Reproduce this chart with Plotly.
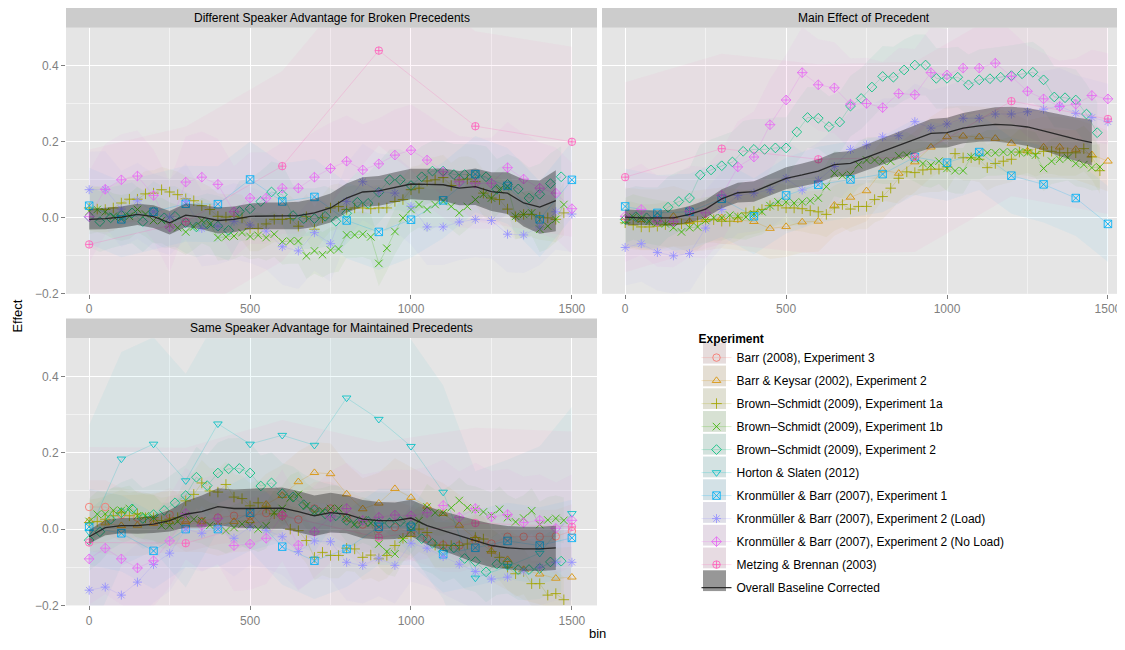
import plotly.graph_objects as go

# ---------------- bins ----------------
bins25 = list(range(0, 1500, 25))            # Brown-Schmidt 1a / 1b
bins33 = [round(k * 100 / 3, 1) for k in range(45)]  # Brown-Schmidt 2
bins50 = list(range(0, 1501, 50))
bins100 = list(range(0, 1501, 100))
metz_bins = [0, 300, 600, 900, 1200, 1500]
overall_bins = list(range(0, 1451, 50))

# ---------------- experiments ----------------
exp_names = ["Barr (2008), Experiment 3", "Barr & Keysar (2002), Experiment 2",
             "Brown\u2013Schmidt (2009), Experiment 1a", "Brown\u2013Schmidt (2009), Experiment 1b",
             "Brown\u2013Schmidt (2009), Experiment 2", "Horton & Slaten (2012)",
             "Kronm\u00fcller & Barr (2007), Experiment 1", "Kronm\u00fcller & Barr (2007), Experiment 2 (Load)",
             "Kronm\u00fcller & Barr (2007), Experiment 2 (No Load)", "Metzing & Brennan (2003)"]
exp_colors = ["#F8766D", "#D89000", "#A3A500", "#39B600", "#00BF7D",
              "#00BFC4", "#00B0F6", "#9590FF", "#E76BF3", "#FF62BC"]
exp_symbols = ["circle-open", "triangle-up-open", "cross-thin-open", "x-thin-open", "diamond-open",
               "triangle-down-open", "square-x-open", "asterisk-open", "diamond-cross-open", "circle-cross-open"]
exp_ci = [0.07, 0.08, 0.06, 0.06, 0.08, 0.28, 0.1, 0.1, 0.12, 0.25]

panel_titles = ["Different Speaker Advantage for Broken Precedents",
                "Main Effect of Precedent",
                "Same Speaker Advantage for Maintained Precedents"]

# ---------------- panel 1: Different speaker advantage (broken) ----------------
p1_bs1a = [0.026, 0.023, 0.022, 0.026, 0.039, 0.049, 0.049, 0.063, 0.065, 0.074, 0.068, 0.061, 0.05, 0.045,
           0.032, 0.022, 0.004, 0.002, 0.004, 0.0, -0.028, -0.028, -0.016, -0.004, -0.004, -0.002, -0.022,
           0.003, -0.03, 0.0, 0.026, 0.03, 0.022, 0.026, 0.026, 0.024, 0.026, 0.026, 0.043, 0.048, 0.074,
           0.078, 0.097, 0.1, 0.106, 0.085, 0.1, 0.102, 0.095, 0.065, 0.052, 0.048, 0.023, 0.003, 0.009,
           0.009, 0.002, 0.0, -0.004, 0.013]
p1_bs1b = [0.017, 0.022, 0.016, 0.004, 0.0, 0.004, 0.022, 0.01, -0.007, -0.007, -0.019, -0.026, -0.037, -0.024,
           -0.007, -0.016, -0.052, -0.05, -0.048, -0.039, -0.049, -0.046, -0.052, -0.043, -0.063, -0.061,
           -0.061, -0.1, -0.087, -0.097, -0.085, -0.082, -0.045, -0.045, -0.043, -0.05, -0.12, -0.08, -0.036,
           0.0, 0.022, 0.035, 0.022, 0.035, 0.043, 0.03, 0.013, 0.03, 0.048, 0.062, 0.052, 0.074, 0.082,
           0.004, 0.009, 0.013, -0.03, -0.022, -0.004, 0.035]
p1_bs2 = [0.003, -0.01, 0.0, 0.007, 0.013, -0.01, 0.016, 0.0, 0.004, -0.013, -0.024, -0.016, -0.022, -0.033,
          0.017, 0.024, 0.043, 0.068, 0.061, 0.006, -0.002, -0.002, 0.004, -0.009, 0.012, 0.041, 0.038, 0.067,
          0.1, 0.1, 0.085, 0.108, 0.123, 0.123, 0.114, 0.114, 0.113, 0.108, 0.075, 0.088, 0.076, 0.052, 0.062,
          0.09, 0.108]
p1_k1 = [0.032, -0.004, 0.016, 0.037, 0.036, 0.101, 0.043, 0.055, -0.007, -0.037, -0.005, 0.046, 0.115,
         0.084, -0.004, 0.1]
p1_k2load = [0.074, 0.075, 0.023, 0.045, 0.016, 0.002, 0.043, -0.028, -0.022, -0.009, -0.019, -0.035, -0.076,
             -0.087, -0.039, -0.068, 0.043, 0.095, 0.069, 0.065, 0.03, -0.024, -0.024, -0.011, -0.004, -0.007,
             -0.043, -0.045, -0.024, 0.016, 0.01]
p1_k2noload = [0.003, 0.075, 0.1, 0.11, 0.059, -0.024, 0.094, 0.107, 0.088, 0.016, 0.052, 0.052, 0.078, 0.078,
               0.107, 0.13, 0.149, 0.126, 0.142, 0.165, 0.178, 0.152, 0.121, 0.095, 0.091, 0.091, 0.132, 0.102,
               0.078, 0.065, 0.024]
p1_metzing = [-0.07, -0.01, 0.136, 0.44, 0.241, 0.2]
p1_overall = [-0.004, -0.002, 0.002, 0.009, 0.003, -0.013, 0.007, 0.002, -0.007, -0.004, 0.004, 0.005, 0.005,
              0.006, 0.013, 0.026, 0.052, 0.068, 0.071, 0.08, 0.089, 0.088, 0.087, 0.078, 0.082, 0.069, 0.065,
              0.039, 0.028, 0.045]
p1_overall_ci = [0.027, 0.028, 0.028, 0.028, 0.03, 0.031, 0.031, 0.032, 0.034, 0.034, 0.034, 0.035, 0.035,
                 0.036, 0.037, 0.038, 0.038, 0.039, 0.039, 0.04, 0.04, 0.041, 0.043, 0.045, 0.048, 0.051, 0.055,
                 0.062, 0.07, 0.08]

# ---------------- panel 2: Main effect of precedent ----------------
p2_bk = [0.0, -0.005, -0.005, 0.004, -0.01, -0.005, 0.0, -0.005, -0.01, -0.028, -0.023, -0.011, -0.009, 0.033,
         0.054, 0.071, 0.126, 0.117, 0.147, 0.186, 0.213, 0.215, 0.213, 0.209, 0.196, 0.176, 0.186, 0.186, 0.18,
         0.166, 0.149]
p2_bs1a = [-0.013, -0.019, -0.024, -0.024, -0.022, -0.018, -0.015, -0.016, -0.013, -0.01, -0.005, -0.005,
           -0.009, -0.009, 0.0, 0.013, 0.017, 0.022, 0.032, 0.032, 0.026, 0.026, 0.024, 0.019, 0.016, 0.009,
           0.026, 0.035, 0.023, 0.03, 0.03, 0.048, 0.056, 0.078, 0.104, 0.121, 0.119, 0.126, 0.128, 0.128, 0.134,
           0.169, 0.158, 0.158, 0.154, 0.132, 0.143, 0.149, 0.154, 0.173, 0.178, 0.169, 0.175, 0.175, 0.171,
           0.171, 0.171, 0.182, 0.16, 0.124]
p2_bs1b = [-0.007, 0.002, -0.004, -0.009, -0.013, -0.016, -0.026, -0.037, -0.026, -0.024, -0.007, 0.0, 0.0,
           0.007, 0.004, 0.002, 0.01, 0.016, 0.032, 0.042, 0.042, 0.039, 0.042, 0.045, 0.052, 0.082, 0.117, 0.111,
           0.114, 0.14, 0.152, 0.152, 0.149, 0.149, 0.163, 0.165, 0.155, 0.143, 0.139, 0.149, 0.13, 0.124, 0.124,
           0.16, 0.16, 0.171, 0.171, 0.173, 0.173, 0.173, 0.171, 0.165, 0.13, 0.149, 0.154, 0.158, 0.143, 0.14,
           0.132, 0.134]
p2_bs2 = [-0.004, 0.003, 0.0, 0.0, 0.028, 0.043, 0.052, 0.113, 0.126, 0.137, 0.147, 0.175, 0.18, 0.18, 0.184,
          0.184, 0.226, 0.264, 0.262, 0.24, 0.252, 0.294, 0.314, 0.344, 0.372, 0.37, 0.389, 0.402, 0.402, 0.367,
          0.367, 0.37, 0.35, 0.363, 0.366, 0.37, 0.374, 0.379, 0.383, 0.363, 0.318, 0.316, 0.31, 0.273, 0.224]
p2_k1 = [0.03, 0.013, 0.016, 0.05, 0.004, 0.059, 0.087, 0.101, 0.115, 0.16, 0.145, 0.173, 0.111, 0.088, 0.052,
         -0.016]
p2_k2load = [-0.078, -0.068, -0.091, -0.1, -0.094, -0.027, 0.022, 0.059, 0.065, 0.074, 0.104, 0.073, 0.098, 0.135,
             0.18, 0.192, 0.213, 0.216, 0.253, 0.236, 0.247, 0.262, 0.262, 0.273, 0.273, 0.279, 0.286, 0.294, 0.275,
             0.264, 0.253]
p2_k2noload = [0.004, 0.022, -0.009, -0.01, 0.017, 0.013, 0.059, 0.134, 0.16, 0.245, 0.31, 0.382, 0.35, 0.342,
               0.299, 0.301, 0.29, 0.327, 0.324, 0.382, 0.376, 0.394, 0.394, 0.407, 0.372, 0.333, 0.313, 0.293,
               0.299, 0.322, 0.313]
p2_metzing = [0.107, 0.182, 0.154, 0.16, 0.307, 0.26]
p2_overall = [0.002, 0.0, 0.0, 0.0, 0.009, 0.023, 0.05, 0.066, 0.069, 0.087, 0.104, 0.113, 0.123, 0.14, 0.143,
              0.159, 0.175, 0.19, 0.207, 0.222, 0.224, 0.236, 0.242, 0.246, 0.244, 0.239, 0.229, 0.217, 0.207,
              0.198]
p2_overall_ci = [0.02, 0.02, 0.02, 0.021, 0.022, 0.023, 0.025, 0.026, 0.027, 0.028, 0.029, 0.03, 0.031, 0.032,
                 0.033, 0.034, 0.035, 0.036, 0.037, 0.038, 0.039, 0.04, 0.042, 0.045, 0.048, 0.05, 0.052, 0.055,
                 0.057, 0.06]

# ---------------- panel 3: Same speaker advantage (maintained) ----------------
p3_barr = [0.058, 0.058, 0.038, 0.03, 0.02, 0.038, 0.01, 0.02, 0.03, 0.035, 0.035, 0.042, 0.035, 0.025, 0.054,
           0.054, 0.03, 0.012, 0.0, 0.005, -0.011, -0.025, -0.042, -0.043, -0.03, -0.038, -0.02, -0.02, -0.02,
           -0.019, -0.005]
p3_bk = [0.022, 0.016, 0.009, 0.01, 0.015, 0.02, 0.02, 0.02, 0.01, 0.02, 0.022, 0.065, 0.088, 0.124, 0.148,
         0.145, 0.092, 0.053, 0.068, 0.106, 0.083, 0.06, 0.041, 0.01, -0.025, -0.058, -0.08, -0.106, -0.118,
         -0.129, -0.126]
p3_bs1a = [0.017, 0.02, 0.026, 0.035, 0.043, 0.035, 0.04, 0.03, 0.03, 0.022, 0.026, 0.03, 0.074, 0.091, 0.121,
           0.1, 0.097, 0.117, 0.084, 0.08, 0.061, 0.069, 0.056, 0.04, 0.035, 0.0, -0.004, -0.03, -0.074, -0.061,
           -0.069, -0.069, -0.05, -0.052, -0.074, -0.068, -0.078, -0.069, -0.043, -0.024, -0.019, 0.0, -0.009,
           -0.042, -0.042, -0.043, -0.043, -0.039, -0.022, -0.026, -0.059, -0.074, -0.1, -0.117, -0.111, -0.143,
           -0.143, -0.173, -0.169, -0.185]
p3_bs1b = [0.02, 0.039, 0.04, 0.049, 0.049, 0.054, 0.035, 0.035, 0.03, 0.009, 0.009, 0.02, 0.035, 0.026, 0.022,
           0.01, 0.006, -0.004, 0.004, 0.013, 0.01, 0.0, 0.009, 0.043, 0.054, 0.082, 0.091, 0.061, 0.045, 0.048,
           0.054, 0.054, 0.026, 0.013, 0.024, 0.016, -0.039, -0.059, -0.065, -0.026, -0.004, 0.022, 0.058, 0.043,
           0.043, 0.056, 0.075, 0.056, 0.052, 0.045, 0.036, 0.052, 0.03, 0.019, 0.029, 0.048, 0.012, 0.024,
           0.028, 0.023]
p3_bs2 = [-0.029, -0.007, 0.026, 0.043, 0.053, 0.028, 0.038, 0.049, 0.069, 0.088, 0.136, 0.114, 0.147, 0.158,
          0.159, 0.147, 0.113, 0.121, 0.093, 0.084, 0.064, 0.05, 0.04, 0.035, 0.023, 0.015, 0.02, 0.016, 0.016,
          0.02, 0.01, -0.025, -0.037, -0.059, -0.049, -0.077, -0.085, -0.112, -0.092, -0.089, -0.106, -0.106,
          -0.103, -0.086, -0.084]
p3_horton = [-0.007, 0.184, 0.223, 0.127, 0.276, 0.223, 0.246, 0.22, 0.344, 0.288, 0.217, 0.097, -0.128, -0.098,
             -0.063, 0.041]
p3_k1 = [0.006, -0.011, -0.057, 0.0, 0.0, 0.043, -0.046, -0.083, -0.052, 0.006, 0.006, -0.066, -0.049, -0.031,
         -0.043, -0.023]
p3_k2load = [-0.16, -0.152, -0.173, -0.139, -0.093, -0.063, 0.0, -0.011, 0.005, -0.024, 0.006, -0.003, -0.02,
             -0.059, -0.031, -0.033, -0.087, -0.095, -0.076, -0.095, -0.037, -0.05, -0.072, -0.092, -0.111, -0.131,
             -0.126, -0.11, -0.1, -0.087, -0.087]
p3_k2noload = [-0.078, -0.05, -0.078, -0.102, -0.083, -0.031, 0.041, 0.01, 0.028, -0.043, -0.039, -0.024, 0.036,
               -0.042, -0.007, 0.032, 0.054, 0.023, 0.031, 0.037, 0.035, 0.043, 0.062, 0.031, 0.054, 0.032, 0.038,
               0.017, 0.023, 0.002, 0.023]
p3_metzing = [-0.035, -0.037, 0.036, -0.022, 0.016, 0.006]
p3_overall = [-0.02, 0.004, 0.009, 0.009, 0.013, 0.022, 0.039, 0.046, 0.059, 0.054, 0.054, 0.054, 0.055, 0.046,
              0.035, 0.043, 0.039, 0.026, 0.022, 0.022, 0.029, 0.009, -0.004, -0.019, -0.032, -0.043, -0.049,
              -0.052, -0.052, -0.049]
p3_overall_ci = [0.018, 0.02, 0.02, 0.021, 0.023, 0.028, 0.035, 0.042, 0.048, 0.05, 0.052, 0.053, 0.054, 0.054,
                 0.053, 0.052, 0.05, 0.05, 0.049, 0.048, 0.048, 0.05, 0.052, 0.054, 0.056, 0.057, 0.057, 0.058,
                 0.058, 0.058]

# panel content: (experiment index, bins, values)
panels = [
    [(2, bins25, p1_bs1a), (3, bins25, p1_bs1b), (4, bins33, p1_bs2), (6, bins100, p1_k1),
     (7, bins50, p1_k2load), (8, bins50, p1_k2noload), (9, metz_bins, p1_metzing)],
    [(1, bins50, p2_bk), (2, bins25, p2_bs1a), (3, bins25, p2_bs1b), (4, bins33, p2_bs2), (6, bins100, p2_k1),
     (7, bins50, p2_k2load), (8, bins50, p2_k2noload), (9, metz_bins, p2_metzing)],
    [(0, bins50, p3_barr), (1, bins50, p3_bk), (2, bins25, p3_bs1a), (3, bins25, p3_bs1b), (4, bins33, p3_bs2),
     (5, bins100, p3_horton), (6, bins100, p3_k1), (7, bins50, p3_k2load), (8, bins50, p3_k2noload),
     (9, metz_bins, p3_metzing)],
]
overalls = [(p1_overall, p1_overall_ci), (p2_overall, p2_overall_ci), (p3_overall, p3_overall_ci)]


def rgba(h, a):
    h = h.lstrip("#")
    return "rgba(%d,%d,%d,%.3f)" % (int(h[0:2], 16), int(h[2:4], 16), int(h[4:6], 16), a)


fig = go.Figure()
axes = [("x", "y"), ("x2", "y2"), ("x3", "y3")]
legend_done = set()

for pi, content in enumerate(panels):
    xa, ya = axes[pi]
    for ei, bx, vals in content:
        hw = exp_ci[ei]
        hi = [v + hw for v in vals]
        lo = [v - hw for v in vals]
        fig.add_trace(go.Scatter(x=list(bx) + list(bx)[::-1], y=hi + lo[::-1], fill="toself",
                                 fillcolor=rgba(exp_colors[ei], 0.055), line=dict(width=0),
                                 mode="lines", hoverinfo="skip", showlegend=False, xaxis=xa, yaxis=ya))
    for ei, bx, vals in content:
        c = exp_colors[ei]
        fig.add_trace(go.Scatter(
            x=list(bx), y=vals, mode="lines+markers", name=exp_names[ei],
            legendgroup=exp_names[ei], legendrank=ei + 1, showlegend=ei not in legend_done,
            line=dict(color=rgba(c, 0.22), width=1),
            marker=dict(symbol=exp_symbols[ei], size=7.5, color=rgba(c, 0.85),
                        line=dict(width=1, color=rgba(c, 0.85))),
            xaxis=xa, yaxis=ya))
        legend_done.add(ei)
    mean, ci = overalls[pi]
    hi = [m + c for m, c in zip(mean, ci)]
    lo = [m - c for m, c in zip(mean, ci)]
    fig.add_trace(go.Scatter(x=overall_bins + overall_bins[::-1], y=hi + lo[::-1], fill="toself",
                             fillcolor="rgba(20,20,20,0.37)", line=dict(width=0), mode="lines",
                             hoverinfo="skip", showlegend=False, xaxis=xa, yaxis=ya))
    fig.add_trace(go.Scatter(x=overall_bins, y=mean, mode="lines", name="Overall Baseline Corrected",
                             legendgroup="overall", legendrank=20, showlegend=(pi == 0),
                             line=dict(color="rgba(30,30,30,0.9)", width=1.3), xaxis=xa, yaxis=ya))

# The page has an 8px body margin: figure pixel = reference pixel - 8
OFF = 8
W, H = 1125 - OFF, 650 - OFF


def px(v):
    return (v - OFF) / W


def py(v):
    return 1 - (v - OFF) / H


col_dom = [[px(66), px(597)], [px(602), 1.0]]
row_dom = [[py(297), py(28)], [py(612), py(342)]]
tick_font = dict(family="Liberation Sans, Arial, sans-serif", size=12, color="#7F7F7F")

common_x = dict(tickvals=[0, 500, 1000, 1500], showgrid=True, gridcolor="white", gridwidth=1.1,
                zeroline=False, ticks="outside", ticklen=4, tickcolor="#7F7F7F", tickfont=tick_font,
                minor=dict(tickvals=[250, 750, 1250], showgrid=True, gridcolor="#F2F2F2", gridwidth=0.6,
                           ticks=""),
                showline=False)
common_y = dict(range=[-0.2, 0.5], tickvals=[-0.2, 0.0, 0.2, 0.4], tickformat=".1f", showgrid=True,
                gridcolor="white", gridwidth=1.1, zeroline=False, ticks="outside", ticklen=4,
                tickcolor="#7F7F7F", tickfont=tick_font,
                minor=dict(tickvals=[-0.1, 0.1, 0.3], showgrid=True, gridcolor="#F2F2F2", gridwidth=0.6,
                           ticks=""),
                showline=False)
y2 = dict(common_y)
y2["ticks"] = ""

fig.update_layout(
    width=W, height=H, margin=dict(l=0, r=0, t=0, b=0), paper_bgcolor="white", plot_bgcolor="#E5E5E5",
    font=dict(family="Liberation Sans, Arial, sans-serif", size=12, color="black"),
    xaxis=dict(domain=col_dom[0], anchor="y", range=[-72, 1578], **common_x),
    yaxis=dict(domain=row_dom[0], anchor="x", **common_y),
    xaxis2=dict(domain=col_dom[1], anchor="y2", range=[-72, 1553], **common_x),
    yaxis2=dict(domain=row_dom[0], anchor="x2", showticklabels=False, **y2),
    xaxis3=dict(domain=col_dom[0], anchor="y3", range=[-72, 1578], **common_x),
    yaxis3=dict(domain=row_dom[1], anchor="x3", **common_y),
    legend=dict(x=px(696.5), y=py(331), xanchor="left", yanchor="top", bgcolor="rgba(255,255,255,0)",
                title=dict(text="<b>Experiment</b>", font=dict(size=12)), font=dict(size=12),
                tracegroupgap=4, itemwidth=30),
    showlegend=True,
)

# legend key background boxes (as in ggplot keys)
for i in range(11):
    top = 346.5 + 23 * i
    bot = top + 21
    fig.add_shape(type="rect", xref="paper", yref="paper", x0=px(703), x1=px(726), y0=py(bot), y1=py(top),
                  fillcolor="#E5E5E5", line=dict(width=0), layer="below")
    tint = rgba(exp_colors[i], 0.08) if i < 10 else "rgba(20,20,20,0.37)"
    fig.add_shape(type="rect", xref="paper", yref="paper", x0=px(703), x1=px(726), y0=py(bot), y1=py(top),
                  fillcolor=tint, line=dict(width=0), layer="below")

# facet strips
strip_pos = [(col_dom[0], (8, 28)), (col_dom[1], (8, 28)), (col_dom[0], (322, 342))]
for (xd, (t, b)), title in zip(strip_pos, panel_titles):
    fig.add_shape(type="rect", xref="paper", yref="paper", x0=xd[0], x1=xd[1], y0=py(b), y1=py(t),
                  fillcolor="#CCCCCC", line=dict(width=0), layer="below")
    fig.add_annotation(xref="paper", yref="paper", x=(xd[0] + xd[1]) / 2, y=py((t + b) / 2),
                       text=title, showarrow=False, font=dict(size=12, color="black"),
                       xanchor="center", yanchor="middle")

# axis titles
fig.add_annotation(xref="paper", yref="paper", x=px(18), y=py(320), text="Effect", textangle=-90,
                   showarrow=False, font=dict(size=13, color="black"), xanchor="center", yanchor="middle")
fig.add_annotation(xref="paper", yref="paper", x=px(597), y=py(640), text="bin", showarrow=False,
                   font=dict(size=13, color="black"), xanchor="center", yanchor="middle")

fig.write_html("out.html")
